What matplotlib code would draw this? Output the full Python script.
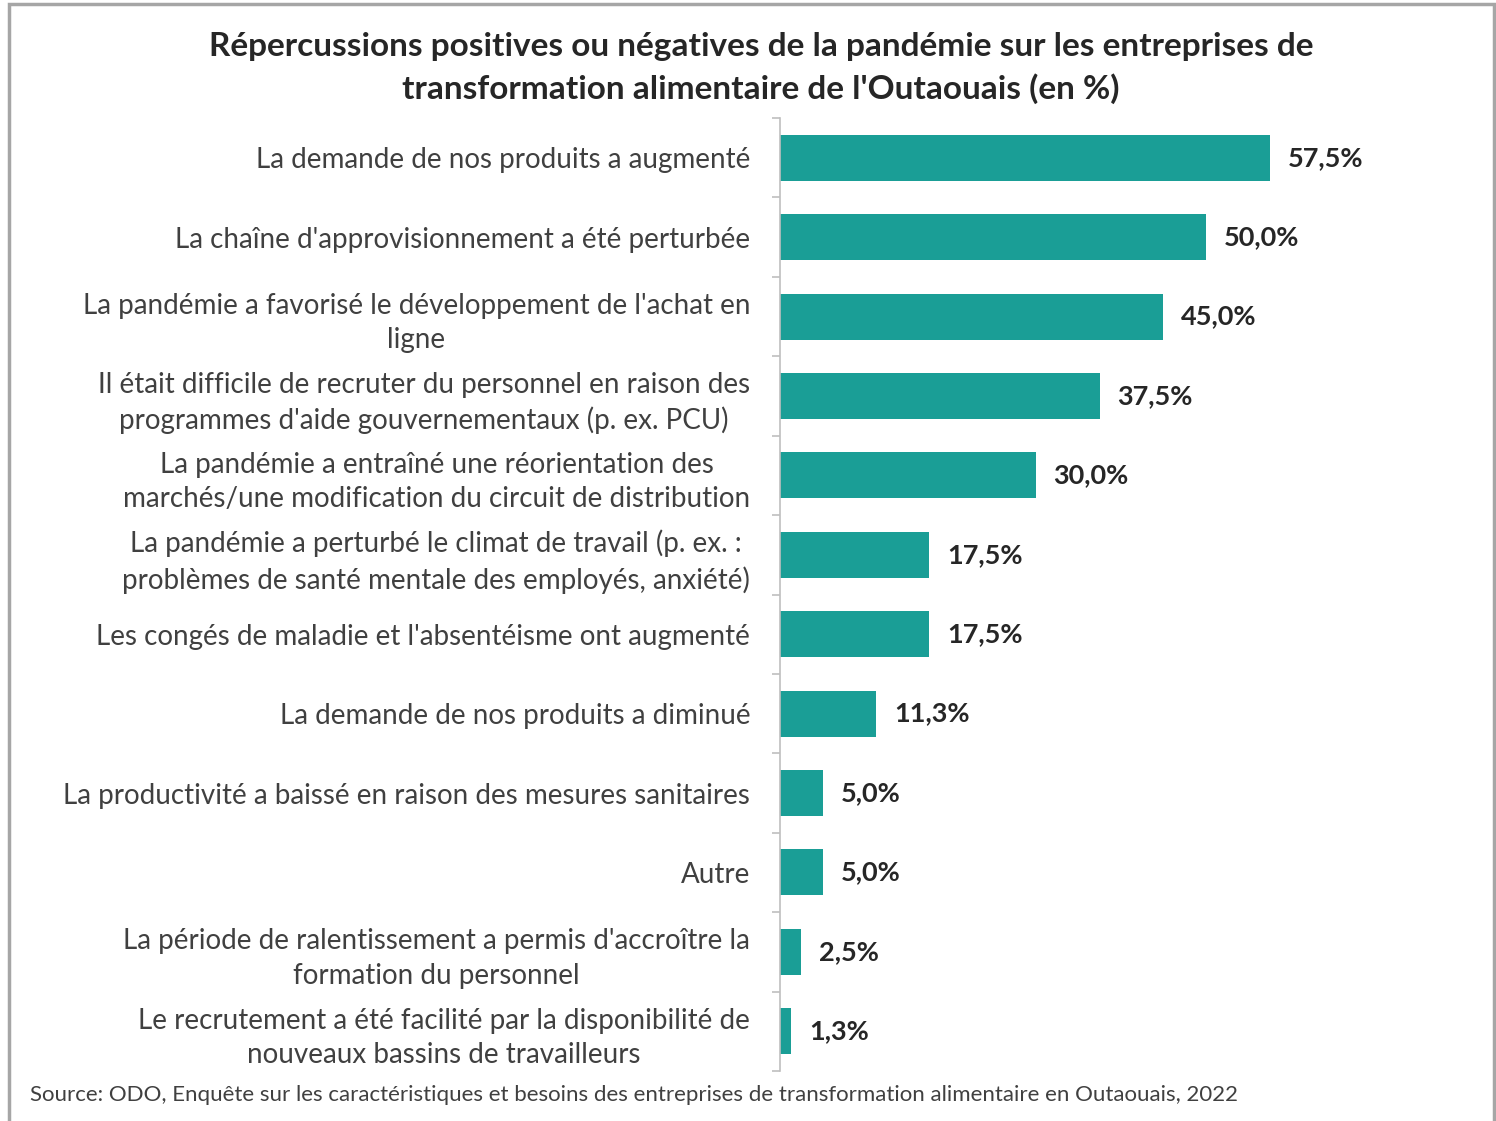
import matplotlib.pyplot as plt
from matplotlib.patches import Rectangle
import numpy as np

plt.rcParams['font.family'] = ['Lato', 'DejaVu Sans']

categories = [
    "La demande de nos produits a augmenté",
    "La chaîne d'approvisionnement a été perturbée",
    "La pandémie a favorisé le développement de l'achat en\nligne",
    "Il était difficile de recruter du personnel en raison des\nprogrammes d'aide gouvernementaux (p. ex. PCU)",
    "La pandémie a entraîné une réorientation des\nmarchés/une modification du circuit de distribution",
    "La pandémie a perturbé le climat de travail (p. ex. :\nproblèmes de santé mentale des employés, anxiété)",
    "Les congés de maladie et l'absentéisme ont augmenté",
    "La demande de nos produits a diminué",
    "La productivité a baissé en raison des mesures sanitaires",
    "Autre",
    "La période de ralentissement a permis d'accroître la\nformation du personnel",
    "Le recrutement a été facilité par la disponibilité de\nnouveaux bassins de travailleurs",
]
values = [57.5, 50.0, 45.0, 37.5, 30.0, 17.5, 17.5, 11.3, 5.0, 5.0, 2.5, 1.3]

title = ("Répercussions positives ou négatives de la pandémie sur les entreprises de\n"
         "transformation alimentaire de l'Outaouais (en %)")
source = ("Source: ODO, Enquête sur les caractéristiques et besoins des entreprises "
          "de transformation alimentaire en Outaouais, 2022")

W, H = 1496, 1121
fig = plt.figure(figsize=(W / 100, H / 100), dpi=100)
ax = fig.add_axes([780 / W, 1 - 1071 / H, 700 / W, (1071 - 118) / H])

y = np.arange(len(values))
ax.barh(y, values, height=0.58, color='#1a9e96')
ax.set_ylim(len(values) - 0.5, -0.5)
ax.set_xlim(0, 700 / 8.52)

for yi, v in zip(y, values):
    ax.text(v + 2.1, yi, f"{v:.1f}%".replace('.', ','), va='center', ha='left',
            fontsize=19.5, fontweight='bold', color='#262626')

ax.set_yticks(y)
ax.set_yticklabels(categories, fontsize=20, color='#404040', linespacing=1.4)
for t in ax.get_yticklabels():
    t.set_multialignment('center')
ax.tick_params(axis='y', which='major', length=0, pad=21.5)
ax.set_yticks(np.arange(len(values) + 1) - 0.5, minor=True)
ax.tick_params(axis='y', which='minor', length=6, width=1.2, color='#bfbfbf')
ax.set_xticks([])

for s in ['top', 'right', 'bottom']:
    ax.spines[s].set_visible(False)
ax.spines['left'].set_color('#bfbfbf')
ax.spines['left'].set_linewidth(1.2)

fig.text(761 / W, 1 - 68 / H, title, ha='center', va='center', fontsize=24,
         fontweight='bold', color='#262626', linespacing=1.45)
fig.text(30 / W, 1 - 1095 / H, source, ha='left', va='center', fontsize=16,
         color='#404040')

fig.patches.append(Rectangle((9 / W, -0.01), (1494 - 9) / W, 1.01 - 4 / H,
                             transform=fig.transFigure, fill=False,
                             edgecolor='#a6a6a6', linewidth=2.5))

fig.savefig('out.png', dpi=100, facecolor='white')
